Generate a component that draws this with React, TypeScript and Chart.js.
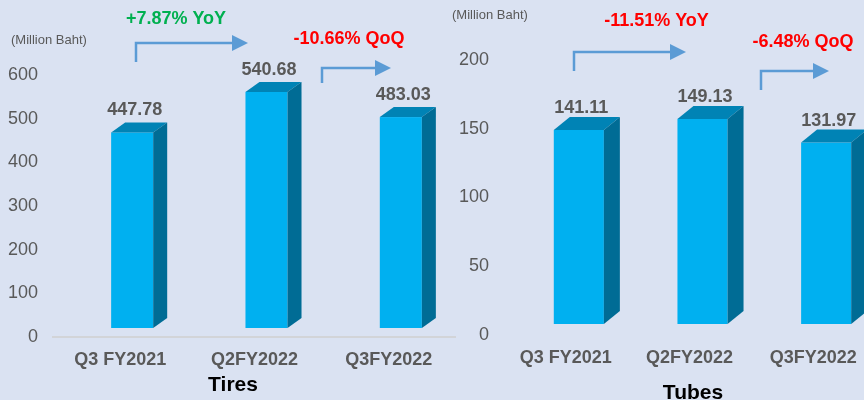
import React, { useEffect, useRef } from "react";
import { Chart, registerables } from "chart.js";

Chart.register(...registerables);

// ---- data ----
const categories = ["Q3 FY2021", "Q2FY2022", "Q3FY2022"];
const tiresValues = [447.78, 540.68, 483.03];
const tubesValues = [141.11, 149.13, 131.97];
const tiresAxisMax = 600;
const tiresAxisStep = 100;
const tubesAxisMax = 200;
const tubesAxisStep = 50;
const tiresTitle = "Tires";
const tubesTitle = "Tubes";
const unitLabel = "(Million Baht)";
const tiresYoY = "+7.87% YoY";
const tiresQoQ = "-10.66% QoQ";
const tubesYoY = "-11.51% YoY";
const tubesQoQ = "-6.48% QoQ";

const FONT = "'Liberation Sans', Arial, sans-serif";
const GREY = "#595959";
const BG = "#dae2f2";
const FRONT = "#00b0f0";
const TOP = "#0083b5";
const SIDE = "#006c95";
const ARROW = "#5b9bd5";
const GREEN = "#00b050";
const RED = "#ff0000";

type Note = { text: string; color: string; x: number; y: number; ax: number; ay0: number; ay1: number; tip: number };
type Panel = {
  left: number; width: number; height: number;
  values: number[]; max: number; step: number; title: string;
  titleX: number; titleY: number;
  yWidth: number; xHeight: number; padTop: number; barPct: number;
  offX: number; offY: number; dx: number; dy: number;
  unitX: number; unitY: number; baseline: boolean;
  notes: Note[];
};

const panels: Panel[] = [
  {
    left: 0, width: 456, height: 400,
    values: tiresValues, max: tiresAxisMax, step: tiresAxisStep, title: tiresTitle,
    titleX: 233, titleY: 385,
    yWidth: 53, xHeight: 63, padTop: 75, barPct: 0.313,
    offX: 12, offY: 9, dx: 14, dy: 10,
    unitX: 11, unitY: 40, baseline: true,
    notes: [
      { text: tiresYoY, color: GREEN, x: 176, y: 19, ax: 136, ay0: 62, ay1: 43, tip: 248 },
      { text: tiresQoQ, color: RED, x: 349, y: 39, ax: 322, ay0: 83, ay1: 68, tip: 391 },
    ],
  },
  {
    left: 432, width: 443, height: 400,
    values: tubesValues, max: tubesAxisMax, step: tubesAxisStep, title: tubesTitle,
    titleX: 261, titleY: 393,
    yWidth: 72, xHeight: 65, padTop: 60, barPct: 0.405,
    offX: 13, offY: 11, dx: 16, dy: 13,
    unitX: 20, unitY: 15, baseline: false,
    notes: [
      { text: tubesYoY, color: RED, x: 224.5, y: 21, ax: 142, ay0: 71, ay1: 52, tip: 254 },
      { text: tubesQoQ, color: RED, x: 371, y: 42, ax: 329, ay0: 90, ay1: 71, tip: 397 },
    ],
  },
];

function makePlugin(p: Panel) {
  return {
    id: "bars3d",
    afterDatasetsDraw(chart: any) {
      const ctx = chart.ctx as CanvasRenderingContext2D;
      const meta = chart.getDatasetMeta(0);
      ctx.save();
      meta.data.forEach((el: any, i: number) => {
        const { x, y, base, width } = el.getProps(["x", "y", "base", "width"], true);
        const x0 = x + p.offX - width / 2;
        const x1 = x0 + width;
        const yt = y - p.offY;
        const yb = base - p.offY;
        // front
        ctx.fillStyle = FRONT;
        ctx.fillRect(x0, yt, width, yb - yt);
        // top
        ctx.fillStyle = TOP;
        ctx.beginPath();
        ctx.moveTo(x0, yt);
        ctx.lineTo(x1, yt);
        ctx.lineTo(x1 + p.dx, yt - p.dy);
        ctx.lineTo(x0 + p.dx, yt - p.dy);
        ctx.closePath();
        ctx.fill();
        // side
        ctx.fillStyle = SIDE;
        ctx.beginPath();
        ctx.moveTo(x1, yt);
        ctx.lineTo(x1 + p.dx, yt - p.dy);
        ctx.lineTo(x1 + p.dx, yb - p.dy);
        ctx.lineTo(x1, yb);
        ctx.closePath();
        ctx.fill();
        // value label
        ctx.fillStyle = GREY;
        ctx.font = `bold 18px ${FONT}`;
        ctx.textAlign = "center";
        ctx.textBaseline = "middle";
        ctx.fillText(p.values[i].toFixed(2), x + p.offX + 2.5, yt - 22);
      });
      // unit label
      ctx.fillStyle = GREY;
      ctx.font = `13px ${FONT}`;
      ctx.textAlign = "left";
      ctx.textBaseline = "middle";
      ctx.fillText(unitLabel, p.unitX, p.unitY);
      // panel title (category axis title)
      ctx.fillStyle = "#000000";
      ctx.font = `bold 21px ${FONT}`;
      ctx.textAlign = "center";
      ctx.textBaseline = "middle";
      ctx.fillText(p.title, p.titleX, p.titleY);
      // annotations
      p.notes.forEach((n) => {
        ctx.fillStyle = n.color;
        ctx.font = `bold 18px ${FONT}`;
        ctx.textAlign = "center";
        ctx.textBaseline = "middle";
        ctx.fillText(n.text, n.x, n.y);
        ctx.strokeStyle = ARROW;
        ctx.lineWidth = 2.5;
        ctx.beginPath();
        ctx.moveTo(n.ax, n.ay0);
        ctx.lineTo(n.ax, n.ay1);
        ctx.lineTo(n.tip - 16, n.ay1);
        ctx.stroke();
        ctx.fillStyle = ARROW;
        ctx.beginPath();
        ctx.moveTo(n.tip - 16, n.ay1 - 8);
        ctx.lineTo(n.tip, n.ay1);
        ctx.lineTo(n.tip - 16, n.ay1 + 8);
        ctx.closePath();
        ctx.fill();
      });
      ctx.restore();
    },
  };
}

function PanelChart({ p }: { p: Panel }) {
  const ref = useRef<HTMLCanvasElement | null>(null);
  useEffect(() => {
    if (!ref.current) return;
    const chart = new Chart(ref.current, {
      type: "bar",
      data: {
        labels: categories,
        datasets: [
          {
            data: p.values,
            backgroundColor: "rgba(0,0,0,0)",
            borderWidth: 0,
            categoryPercentage: 1,
            barPercentage: p.barPct,
          },
        ],
      },
      options: {
        responsive: false,
        animation: false,
        devicePixelRatio: 1,
        layout: { padding: { top: p.padTop, left: 0, right: 0, bottom: 0 } },
        plugins: { legend: { display: false }, tooltip: { enabled: false }, title: { display: false } },
        scales: {
          x: {
            grid: { display: false, drawTicks: false },
            border: { display: p.baseline, color: "#d2d4d8", width: 2 },
            ticks: {
              padding: 12,
              color: GREY,
              font: { family: FONT, size: 18, weight: "bold" },
              maxRotation: 0,
              autoSkip: false,
            },
            afterFit: (s: any) => {
              s.height = p.xHeight;
            },
          },
          y: {
            min: 0,
            max: p.max,
            grid: { display: false, drawTicks: false },
            border: { display: false },
            ticks: {
              stepSize: p.step,
              padding: 15,
              color: GREY,
              font: { family: FONT, size: 18 },
            },
            afterFit: (s: any) => {
              s.width = p.yWidth;
            },
          },
        },
      } as any,
      plugins: [makePlugin(p)],
    });
    return () => chart.destroy();
  }, [p]);
  return (
    <canvas
      ref={ref}
      width={p.width}
      height={p.height}
      style={{ position: "absolute", left: p.left, top: 0, width: p.width, height: p.height }}
    />
  );
}

export default function App() {
  return (
    <div
      style={{
        position: "fixed",
        left: 0,
        top: 0,
        width: 864,
        height: 400,
        background: BG,
        overflow: "hidden",
      }}
    >
      {panels.map((p, i) => (
        <PanelChart key={i} p={p} />
      ))}
    </div>
  );
}
